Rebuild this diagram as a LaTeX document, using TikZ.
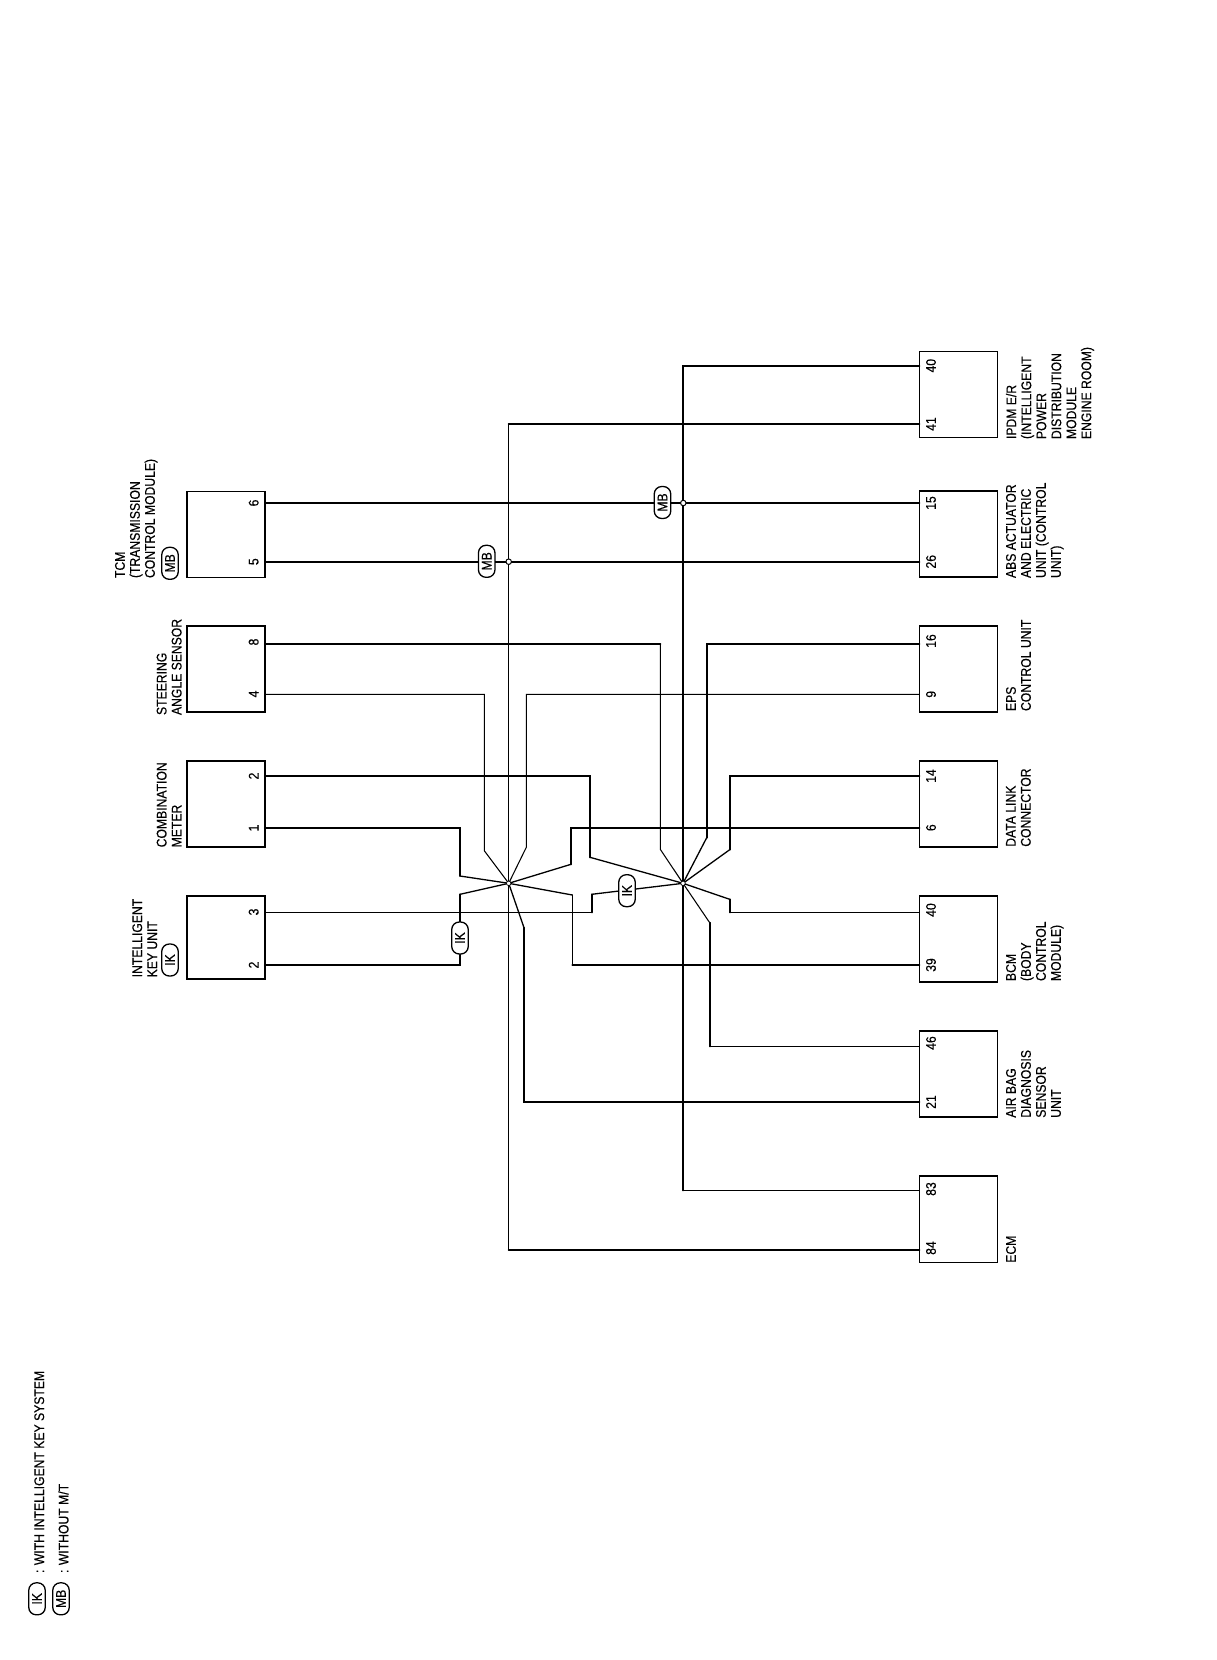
\documentclass[tikz,border=0pt]{standalone}
\usepackage{fontspec}
\setmainfont[FakeStretch=0.87,FakeBold=0.35]{Liberation Sans}
\tikzset{
  thk/.style={line width=1.9pt,line cap=round},
  med/.style={line width=1.3pt,line cap=round},
  thn/.style={line width=1.05pt,line cap=round},
  unitbox/.style={draw=black,line width=1.6pt,fill=white,anchor=north west,inner sep=0pt,outer sep=0pt},
  lab/.style={rotate=90,anchor=north west,inner sep=0pt,outer sep=0pt,align=left,font=\fontsize{14}{15}\selectfont},
  pinlab/.style={rotate=90,anchor=center,inner sep=0pt,font=\fontsize{14}{15}\selectfont},
  pill/.style={draw=black,line width=1.3pt,fill=white,rotate=90,inner sep=0pt,minimum width=32pt,minimum height=16.5pt,rounded corners=7.5pt,font=\fontsize{14}{15}\selectfont},
  hub/.style={circle,draw=black,line width=1pt,fill=white,inner sep=0pt,minimum size=5.5pt},
  star/.style={circle,draw=black,line width=.7pt,fill=white,inner sep=0pt,minimum size=4.5pt}
}
\begin{document}
\begin{tikzpicture}[x=1pt,y=-1pt]
\useasboundingbox[fill=white] (0,0) rectangle (1216,1660);
% units, left column
\node[unitbox,minimum width=78pt,minimum height=86pt] (tcm) at (187.2,491.4) {};
\node[unitbox,minimum width=77.6pt,minimum height=86pt] (sas) at (187.2,625.7) {};
\node[unitbox,minimum width=77.6pt,minimum height=86pt] (cmb) at (187.2,760.7) {};
\node[unitbox,minimum width=77.6pt,minimum height=83pt] (iku) at (187.2,895.7) {};
% units, right column
\node[unitbox,minimum width=78.2pt,minimum height=86pt] (ipdm) at (919.3,351.4) {};
\node[unitbox,minimum width=78.2pt,minimum height=86pt] (abs) at (919.3,490.7) {};
\node[unitbox,minimum width=78.2pt,minimum height=86pt] (eps) at (919.3,625.7) {};
\node[unitbox,minimum width=78.2pt,minimum height=86pt] (dlc) at (919.3,760.7) {};
\node[unitbox,minimum width=78.2pt,minimum height=86pt] (bcm) at (919.3,895.7) {};
\node[unitbox,minimum width=78.2pt,minimum height=86pt] (abg) at (919.3,1030.7) {};
\node[unitbox,minimum width=78.2pt,minimum height=86.6pt] (ecm) at (919.3,1176) {};
% pin coordinates
\coordinate (tcm6) at (265.2,503);
\coordinate (tcm5) at (265.2,561.7);
\coordinate (sas8) at (264.8,644);
\coordinate (sas4) at (264.8,694.3);
\coordinate (cmb2) at (264.8,776);
\coordinate (cmb1) at (264.8,827.7);
\coordinate (iku3) at (264.8,912.3);
\coordinate (iku2) at (264.8,965);
\coordinate (ipdm40) at (919.3,365.7);
\coordinate (ipdm41) at (919.3,424);
\coordinate (abs15) at (919.3,503);
\coordinate (abs26) at (919.3,561.7);
\coordinate (eps16) at (919.3,644);
\coordinate (eps9) at (919.3,694.3);
\coordinate (dlc14) at (919.3,776);
\coordinate (dlc6) at (919.3,827.7);
\coordinate (bcm40) at (919.3,912.3);
\coordinate (bcm39) at (919.3,965);
\coordinate (abg46) at (919.3,1046.3);
\coordinate (abg21) at (919.3,1101.7);
\coordinate (ecm83) at (919.3,1190.3);
\coordinate (ecm84) at (919.3,1249.7);
% star centres
\coordinate (ja) at (508.7,883.3);
\coordinate (jb) at (683,883.3);
% long runs
\draw[thk] (ipdm41) -- (508.7,424);
\draw[thn] (508.7,424) -- (508.7,1249.7);
\draw[thk] (508.7,1249.7) -- (ecm84);
\draw[thk] (ipdm40) -- (683,365.7) -- (683,1190.3);
\draw[thn] (683,1190.3) -- (ecm83);
% straight runs
\draw[thk] (tcm6) -- (abs15);
\draw[thk] (tcm5) -- (abs26);
% star A
\draw[thk] (cmb1) -- (460,827.7) -- (460,876);
\draw[med] (460,876) -- (ja);
\draw[thk] (iku2) -- (460,965) -- (460,894.3);
\draw[med] (460,894.3) -- (ja);
\draw[thn] (sas4) -- (484.3,694.3) -- (484.3,850.7) -- (ja);
\draw[thn] (eps9) -- (526.3,694.3) -- (526.3,847.3) -- (ja);
\draw[thk] (dlc6) -- (571,827.7) -- (571,864.3);
\draw[med] (571,864.3) -- (ja);
\draw[thk] (bcm39) -- (572.3,965);
\draw[thn] (572.3,965) -- (572.3,895);
\draw[med] (572.3,895) -- (ja);
\draw[thk] (abg21) -- (524,1101.7) -- (524,927.7);
\draw[med] (524,927.7) -- (ja);
% star B
\draw[thk] (sas8) -- (660.3,644);
\draw[thn] (660.3,644) -- (660.3,849.3) -- (jb);
\draw[thk] (eps16) -- (706.7,644) -- (706.7,837.7);
\draw[med] (706.7,837.7) -- (jb);
\draw[thk] (dlc14) -- (729.7,776) -- (729.7,849.7);
\draw[med] (729.7,849.7) -- (jb);
\draw[thk] (cmb2) -- (590,776) -- (590,857.3);
\draw[med] (590,857.3) -- (jb);
\draw[thn] (iku3) -- (591.7,912.3);
\draw[thk] (591.7,912.3) -- (591.7,894.3);
\draw[med] (591.7,894.3) -- (jb);
\draw[thn] (bcm40) -- (729.7,912.3);
\draw[thk] (729.7,912.3) -- (729.7,899.3);
\draw[med] (729.7,899.3) -- (jb);
\draw[thn] (abg46) -- (709.7,1046.3);
\draw[thk] (709.7,1046.3) -- (709.7,922.7);
\draw[thn] (709.7,922.7) -- (jb);
% star centres and junction dots
\node[star] (sa) at (ja) {};
\node[star] (sb) at (jb) {};
\node[hub] (h1) at (508.7,561.7) {};
\node[hub] (h2) at (683.3,503) {};
% pills on wires
\node[pill] (pk1) at (460,938) {IK};
\node[pill] (pk2) at (627,890.7) {IK};
\node[pill] (pm1) at (486.7,561.3) {MB};
\node[pill] (pm2) at (662.5,502.5) {MB};
% left pin numbers
\node[pinlab] (n1) at (253.7,503) {6};
\node[pinlab] (n2) at (253.7,561.7) {5};
\node[pinlab] (n3) at (253.7,642) {8};
\node[pinlab] (n4) at (253.7,694) {4};
\node[pinlab] (n5) at (253.7,776) {2};
\node[pinlab] (n6) at (253.7,828) {1};
\node[pinlab] (n7) at (253.7,912) {3};
\node[pinlab] (n8) at (253.7,965) {2};
% right pin numbers
\node[pinlab] (r1) at (931,365.7) {40};
\node[pinlab] (r2) at (931,424) {41};
\node[pinlab] (r3) at (931,503) {15};
\node[pinlab] (r4) at (931,561.7) {26};
\node[pinlab] (r5) at (931,641) {16};
\node[pinlab] (r6) at (931,694.3) {9};
\node[pinlab] (r7) at (931,776) {14};
\node[pinlab] (r8) at (931,827.7) {6};
\node[pinlab] (r9) at (931,910) {40};
\node[pinlab] (r10) at (931,965) {39};
\node[pinlab] (r11) at (931,1043) {46};
\node[pinlab] (r12) at (931,1102) {21};
\node[pinlab] (r13) at (931,1189) {83};
\node[pinlab] (r14) at (931,1248) {84};
% left labels
\node[lab] (ltcm) at (115,578) {TCM\\(TRANSMISSION\\CONTROL MODULE)};
\node[pill] (ptcm) at (170,563.3) {MB};
\node[lab] (lsas) at (156.7,715) {STEERING\\ANGLE SENSOR};
\node[lab] (lcmb) at (156.7,847.3) {COMBINATION\\METER};
\node[lab] (liku) at (132.3,977.3) {INTELLIGENT\\KEY UNIT};
\node[pill] (piku) at (170,960) {IK};
% right labels
\node[lab] (lipdm) at (1006,439) {IPDM E/R\\(INTELLIGENT\\POWER\\DISTRIBUTION\\MODULE\\ENGINE ROOM)};
\node[lab] (labs) at (1006,578) {ABS ACTUATOR\\AND ELECTRIC\\UNIT (CONTROL\\UNIT)};
\node[lab] (leps) at (1006,711) {EPS\\CONTROL UNIT};
\node[lab] (ldlc) at (1006,846.7) {DATA LINK\\CONNECTOR};
\node[lab] (lbcm) at (1006,981) {BCM\\(BODY\\CONTROL\\MODULE)};
\node[lab] (labg) at (1006,1117.7) {AIR BAG\\DIAGNOSIS\\SENSOR\\UNIT};
\node[lab] (lecm) at (1006,1262.7) {ECM};
% legend
\node[pill] (kik) at (37,1598.8) {IK};
\node[pill] (kmb) at (61,1598.8) {MB};
\node[lab] (tik) at (34.3,1573) {: WITH INTELLIGENT KEY SYSTEM};
\node[lab] (tmb) at (58.3,1573) {: WITHOUT M/T};
\end{tikzpicture}
\end{document}
